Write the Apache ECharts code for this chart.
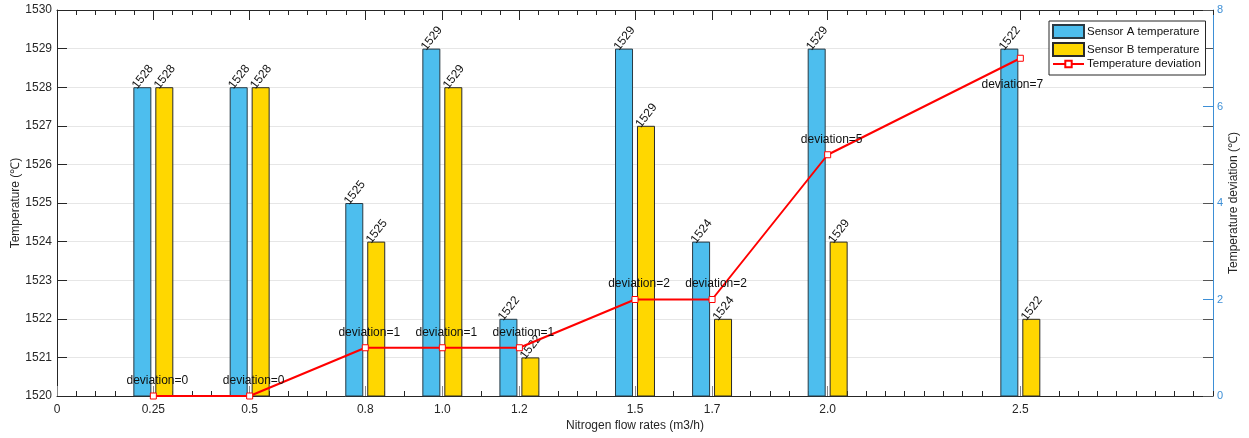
<!DOCTYPE html>
<html>
<head>
<meta charset="utf-8">
<title>Nitrogen flow rates</title>
<script src="https://cdn.jsdelivr.net/npm/echarts@6/dist/echarts.min.js"></script>
<style>
  html, body { margin: 0; padding: 0; background: #fff; }
  #chart { width: 1249px; height: 438px; }
</style>
</head>
<body>
<div id="chart"></div>
<script>
// data
const flowRates = [0.25, 0.5, 0.8, 1.0, 1.2, 1.5, 1.7, 2.0, 2.5];
const sensorA = [1528, 1528, 1525, 1529, 1522, 1529, 1524, 1529, 1529];
const sensorB = [1528, 1528, 1524, 1528, 1521, 1527, 1522, 1524, 1522];
// the printed labels do not always match the bar heights in the original
const labelsA = [1528, 1528, 1525, 1529, 1522, 1529, 1524, 1529, 1522];
const labelsB = [1528, 1528, 1525, 1529, 1522, 1529, 1524, 1529, 1522];
const deviation = [0, 0, 1, 1, 1, 2, 2, 5, 7];
const xTicks = [0, 0.25, 0.5, 0.8, 1.0, 1.2, 1.5, 1.7, 2.0, 2.5];
const xTickLabels = ["0", "0.25", "0.5", "0.8", "1.0", "1.2", "1.5", "1.7", "2.0", "2.5"];

const font = "Liberation Sans";
const ink = "#262626";
const rightBlue = "#3d8fd6";

function pairs(xs, ys) {
  return xs.map(function (x, i) { return [x, ys[i]]; });
}

function xLabel(v) {
  for (let i = 0; i < xTicks.length; i++) {
    if (Math.abs(xTicks[i] - v) < 1e-6) return xTickLabels[i];
  }
  return "";
}

function barLabel(list) {
  return {
    show: true,
    position: [6, 4],
    rotate: 52,
    align: "left",
    verticalAlign: "bottom",
    fontFamily: font,
    fontSize: 12,
    color: "#111",
    formatter: function (p) { return list[p.dataIndex]; },
  };
}

const legendText = { fontFamily: font, fontSize: 11.5, color: "#111", padding: [0, 0, 0, -2] };
const baseX = { type: "value", min: 0, max: 3, gridIndex: 0 };

const options = {
  animation: false,
  textStyle: { fontFamily: font },
  grid: { left: 57, right: 36, top: 10, bottom: 42, outerBoundsMode: "none", containLabel: false },
  legend: [
    {
      // the two bar entries, and the frame round all three
      orient: "vertical",
      left: 1049,
      top: 21,
      padding: [3, 6, 18, 3],
      itemGap: 3,
      itemWidth: 31,
      itemHeight: 13,
      borderColor: ink,
      borderWidth: 1,
      backgroundColor: "#fff",
      textStyle: legendText,
      data: [
        { name: "Sensor A temperature", icon: "rect" },
        { name: "Sensor B temperature", icon: "rect" },
      ],
    },
    {
      // the line entry, with a smaller marker
      orient: "vertical",
      left: 1052,
      top: 58,
      padding: 0,
      itemWidth: 31,
      itemHeight: 8,
      textStyle: legendText,
      data: ["Temperature deviation"],
    },
  ],
  xAxis: [
    Object.assign({}, baseX, {
      position: "bottom",
      interval: 0.05,
      name: "Nitrogen flow rates (m3/h)",
      nameLocation: "middle",
      nameGap: 24,
      nameMoveOverlap: false,
      nameTextStyle: { fontFamily: font, fontSize: 12, color: ink },
      axisLine: { show: true, onZero: false, lineStyle: { color: ink, width: 1 } },
      axisTick: { show: true, inside: true, length: 5, lineStyle: { color: ink } },
      axisLabel: {
        customValues: xTicks,
        margin: 8,
        fontFamily: font,
        fontSize: 12,
        color: ink,
        formatter: xLabel,
      },
      splitLine: { show: false },
    }),
    Object.assign({}, baseX, {
      position: "bottom",
      axisLine: { show: false, onZero: false },
      axisTick: { show: true, inside: true, length: 10, customValues: xTicks, lineStyle: { color: "#888" } },
      axisLabel: { show: false },
      splitLine: { show: false },
    }),
    Object.assign({}, baseX, {
      position: "top",
      interval: 0.05,
      axisLine: { show: true, onZero: false, lineStyle: { color: ink, width: 1 } },
      axisTick: { show: true, inside: true, length: 5, lineStyle: { color: ink } },
      axisLabel: { show: false },
      splitLine: { show: false },
    }),
    Object.assign({}, baseX, {
      position: "top",
      axisLine: { show: false, onZero: false },
      axisTick: { show: true, inside: true, length: 10, customValues: xTicks, lineStyle: { color: ink } },
      axisLabel: { show: false },
      splitLine: { show: false },
    }),
  ],
  yAxis: [
    {
      type: "value",
      position: "left",
      min: 1520,
      max: 1530,
      interval: 1,
      name: "Temperature (℃)",
      nameLocation: "middle",
      nameGap: 35,
      nameMoveOverlap: false,
      nameTextStyle: { fontFamily: font, fontSize: 12, color: ink },
      axisLine: { show: true, onZero: false, lineStyle: { color: ink, width: 1 } },
      axisTick: { show: true, inside: true, length: 10, lineStyle: { color: ink } },
      axisLabel: {
        margin: 5, fontFamily: font, fontSize: 12, color: ink,
        formatter: function (v) { return String(v); },
      },
      splitLine: { show: true, lineStyle: { color: "#e6e6e6", width: 1 } },
    },
    {
      type: "value",
      position: "right",
      min: 0,
      max: 8,
      interval: 2,
      name: "Temperature deviation (℃)",
      nameLocation: "middle",
      nameRotate: 90,
      nameGap: 15,
      nameMoveOverlap: false,
      nameTextStyle: { fontFamily: font, fontSize: 12, color: ink },
      axisLine: { show: true, onZero: false, lineStyle: { color: rightBlue, width: 1 } },
      axisTick: { show: true, inside: true, length: 10, lineStyle: { color: rightBlue } },
      axisLabel: { margin: 4, fontFamily: font, fontSize: 11, color: rightBlue },
      splitLine: { show: false },
    },
    {
      type: "value",
      position: "right",
      min: 1520,
      max: 1530,
      interval: 1,
      axisLine: { show: false, onZero: false },
      axisTick: { show: true, inside: true, length: 10, lineStyle: { color: "#555" } },
      axisLabel: { show: false },
      splitLine: { show: false },
    },
  ],
  series: [
    {
      name: "Sensor A temperature",
      type: "bar",
      xAxisIndex: 0,
      yAxisIndex: 0,
      barWidth: 18,
      barGap: "22%",
      itemStyle: { color: "#4dbeee", borderColor: "#2a3a44", borderWidth: 1 },
      label: barLabel(labelsA),
      data: pairs(flowRates, sensorA),
    },
    {
      name: "Sensor B temperature",
      type: "bar",
      xAxisIndex: 0,
      yAxisIndex: 0,
      barWidth: 18,
      barGap: "22%",
      itemStyle: { color: "#ffd700", borderColor: "#2a2a2a", borderWidth: 1 },
      label: barLabel(labelsB),
      data: pairs(flowRates, sensorB),
    },
    {
      name: "Temperature deviation",
      type: "line",
      xAxisIndex: 0,
      yAxisIndex: 1,
      clip: false,
      z: 5,
      symbol: "rect",
      symbolSize: 6,
      lineStyle: { color: "#ff0000", width: 2 },
      itemStyle: { color: "#ffffff", borderColor: "#ff0000", borderWidth: 1 },
      label: {
        show: true,
        position: "top",
        distance: 6,
        offset: [4, 0],
        fontFamily: font,
        fontSize: 12,
        color: "#111",
        formatter: function (p) { return "deviation=" + p.value[1]; },
      },
      data: pairs(flowRates, deviation).map(function (d, i) {
        if (i === flowRates.length - 1) {
          // last label sits under its point
          return { value: d, label: { position: "bottom", distance: 17, offset: [-8, 0] } };
        }
        return d;
      }),
    },
  ],
};

const myChart = echarts.init(document.getElementById("chart"));
myChart.setOption(options);
</script>
</body>
</html>
